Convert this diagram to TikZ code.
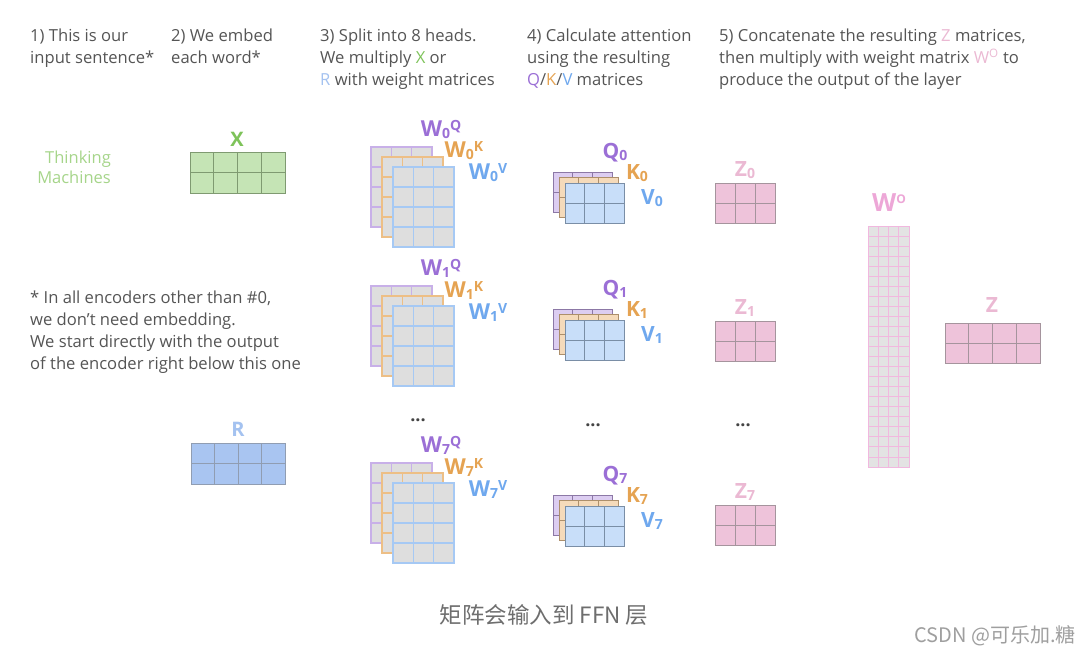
\documentclass[tikz,border=0pt]{standalone}
\usepackage{fontspec}
\usepackage{tikz}
\setmainfont{Open Sans}
\newfontfamily\cjk{Noto Sans CJK SC}
\usetikzlibrary{positioning}
\definecolor{textgray}{HTML}{555555}
\definecolor{cellgray}{HTML}{DEDEDE}
\definecolor{qpurple}{HTML}{9B6FD6}
\definecolor{korange}{HTML}{E5A352}
\definecolor{vblue}{HTML}{6FA8EE}
\definecolor{xgreen}{HTML}{7EC35A}
\definecolor{lightgreen}{HTML}{A6D58A}
\definecolor{rblue}{HTML}{A4C2F0}
\definecolor{zpink}{HTML}{EBB9D3}
\newcommand{\cells}[7][]{%
  \begin{scope}[shift={(#2,#3)}]
    \filldraw[#1] (0,0) rectangle ({#4*#6},{#5*#7});
    \draw[#1, fill=none, xstep=#6pt, ystep=#7pt] (0,{#5*#7}) grid ({#4*#6},0);
  \end{scope}}
\newcommand{\wname}[2]{W\raisebox{-2pt}{\fontsize{14}{14}\selectfont #1}\raisebox{6pt}{\fontsize{14}{14}\selectfont #2}}
\newcommand{\subname}[2]{#1\raisebox{-2pt}{\fontsize{14}{14}\selectfont #2}}
\tikzset {
  % header and footnote text
  note/.style={anchor=north west, inner sep=0pt, align=left, text=textgray, font=\fontsize{16.6}{22}\selectfont},
  % big matrix labels
  mlabel/.style={inner sep=0pt, font=\fontsize{22}{22}\selectfont\bfseries},
  % weight matrices per head
  wq/.style={fill=cellgray, draw=qpurple!55, line width=1.2pt},
  wk/.style={fill=cellgray, draw=korange!70, line width=1.2pt},
  wv/.style={fill=cellgray, draw=vblue!62, line width=1.2pt},
  % resulting Q/K/V matrices
  rq/.style={fill=qpurple!35, draw=qpurple!45!gray, line width=0.8pt},
  rk/.style={fill=korange!40, draw=korange!45!gray, line width=0.8pt},
  rv/.style={fill=vblue!38, draw=vblue!35!gray, line width=0.8pt},
  % Z and output weight matrix
  zmat/.style={fill=zpink!85, draw=zpink!35!gray, line width=0.8pt},
  womat/.style={fill=cellgray!85, draw=zpink!90!magenta!80, line width=0.8pt},
  dots/.style={inner sep=0pt, text=textgray!80!black, font=\fontsize{18}{18}\selectfont\bfseries},
}
\begin{document}
\begin{tikzpicture}[x=1pt, y=-1pt]
  \useasboundingbox (0,0) rectangle (1080,654);
  \fill[white] (0,0) rectangle (1080,654);

  % header
  \node[note] (h1) at (30,28.5) {1) This is our\\input sentence*};
  \node[note] (h2) at (171,28.5) {2) We embed\\each word*};
  \node[note] (h3) at (320,28.5) {3) Split into 8 heads.\\We multiply \textcolor{xgreen}{X} or\\\textcolor{rblue}{R} with weight matrices};
  \node[note] (h4) at (527,28.5) {4) Calculate attention\\using the resulting\\\textcolor{qpurple}{Q}/\textcolor{korange}{K}/\textcolor{vblue}{V} matrices};
  \node[note] (h5) at (719,28.5) {5) Concatenate the resulting \textcolor{zpink}{Z} matrices,\\then multiply with weight matrix \textcolor{zpink}{W\textsuperscript{O}} to\\produce the output of the layer};

  % input sentence and embeddings
  \node[anchor=north east, inner sep=0pt, align=right, text=lightgreen, font=\fontsize{16.5}{20}\selectfont] (words) at (111,151) {Thinking\\Machines};
  \cells[fill=xgreen!45, draw=xgreen!40!gray, line width=0.8pt]{190}{152}{4}{2}{23.75}{20.5}
  \coordinate (xtop) at (237,152);
  \node[mlabel, text=xgreen, font=\fontsize{20}{20}\selectfont\bfseries, above=5pt of xtop] (x) {X};

  \node[note] (foot) at (30,291) {* In all encoders other than \#0,\\we don't need embedding.\\We start directly with the output\\of the encoder right below this one};
  \cells[fill=rblue!95, draw=rblue!45!gray, line width=0.8pt]{191}{443}{4}{2}{23.5}{20.5}
  \coordinate (rtop) at (238,443);
  \node[mlabel, text=rblue, font=\fontsize{20}{20}\selectfont\bfseries, above=6pt of rtop] (r) {R};

  % the heads
  \foreach \i/\wy/\qy/\zy in {0/147/172/183, 1/286/309/321, 7/463/495/505} {
    \cells[wq]{371}{\wy}{3}{4}{20.3}{20}
    \cells[wk]{382}{\wy+10}{3}{4}{20.3}{20}
    \cells[wv]{393}{\wy+20}{3}{4}{20.3}{20}
    \node[mlabel, text=qpurple] (wq\i) at (441,\wy-18) {\wname{\i}{Q}};
    \node[mlabel, text=korange] (wk\i) at (464,\wy+4) {\wname{\i}{K}};
    \node[mlabel, text=vblue] (wv\i) at (488,\wy+26) {\wname{\i}{V}};

    \cells[rq]{553}{\qy}{3}{2}{19.7}{20}
    \cells[rk]{559}{\qy+5.5}{3}{2}{19.7}{20}
    \cells[rv]{565}{\qy+11}{3}{2}{19.7}{20}
    \node[mlabel, text=qpurple, font=\fontsize{21}{21}\selectfont\bfseries] (q\i) at (615,\qy-19) {\subname{Q}{\i}};
    \node[mlabel, text=korange, font=\fontsize{21}{21}\selectfont\bfseries] (k\i) at (637,\qy+1) {\subname{K}{\i}};
    \node[mlabel, text=vblue, font=\fontsize{21}{21}\selectfont\bfseries] (v\i) at (652,\qy+26) {\subname{V}{\i}};

    \cells[zmat]{715}{\zy}{3}{2}{20}{20}
    \node[mlabel, text=zpink, font=\fontsize{21}{21}\selectfont\bfseries] (z\i) at (745,\zy-13) {\subname{Z}{\i}};
  }
  \node[dots] (d1) at (418,420) {...};
  \node[dots] (d2) at (593,425) {...};
  \node[dots] (d3) at (743,425) {...};

  % output weights and result
  \cells[womat]{868}{226}{4}{24}{10.25}{10.04}
  \node[mlabel, text=zpink!90!magenta, font=\fontsize{25}{25}\selectfont\bfseries] (wo) at (889,203) {W\raisebox{8pt}{\fontsize{12}{12}\selectfont O}};
  \cells[zmat]{945}{323}{4}{2}{23.75}{20}
  \node[mlabel, text=zpink, font=\fontsize{21}{21}\selectfont\bfseries] (z) at (992,305) {Z};

  % caption and mark
  \node[inner sep=0pt, text=textgray!85, font=\cjk\fontsize{22.5}{22.5}\selectfont] (cap) at (544,615) {矩阵会输入到 FFN 层};
  \node[anchor=east, inner sep=0pt, text=gray!75, font=\cjk\fontsize{20}{20}\selectfont] (mark) at (1076,636) {CSDN @可乐加.糖};
\end{tikzpicture}
\end{document}
